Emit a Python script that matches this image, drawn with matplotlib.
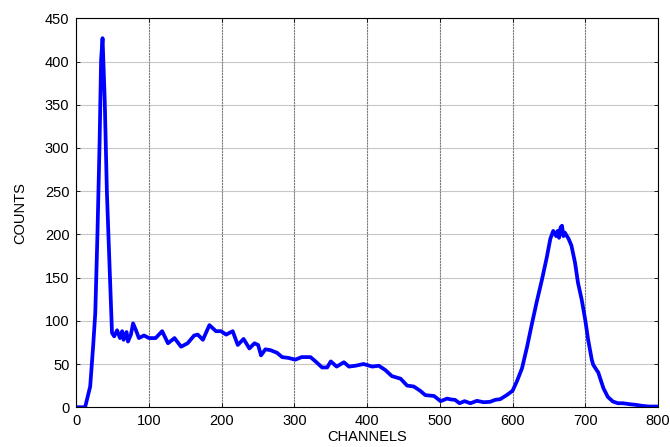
import matplotlib
matplotlib.use("Agg")
import matplotlib.pyplot as plt

plt.rcParams['font.family'] = ['Liberation Sans', 'DejaVu Sans']

# spectrum (channel, counts)
channels = [0, 12, 19, 23, 26, 29, 32, 34, 36, 39, 42, 46, 49, 52, 56, 60, 63, 65, 69, 71,
            75, 78, 82, 86, 93, 100, 109, 118, 126, 135, 144, 153, 162, 167, 174, 183, 192,
            199, 206, 215, 222, 230, 238, 245, 250, 254, 260, 267, 276, 283, 292, 301, 310,
            322, 329, 338, 345, 350, 358, 368, 375, 384, 395, 407, 416, 425, 434, 446, 455,
            464, 473, 480, 492, 501, 510, 515, 521, 527, 534, 542, 551, 560, 569, 576, 583,
            592, 600, 606, 613, 620, 626, 633, 640, 647, 652, 656, 660, 662, 664, 666, 668,
            670, 672, 677, 681, 686, 690, 695, 700, 704, 709, 711, 718, 725, 731, 738, 745,
            752, 761, 770, 779, 788, 800]
counts = [0, 0, 24, 70, 109, 201, 309, 402, 427, 355, 248, 155, 86, 82, 89, 80, 88, 78, 87, 76,
          84, 97, 89, 80, 83, 80, 80, 88, 74, 80, 70, 74, 83, 84, 78, 95, 88,
          88, 84, 88, 72, 79, 68, 74, 72, 60, 67, 66, 63, 58, 57, 55, 58,
          58, 53, 46, 46, 53, 47, 52, 47, 48, 50, 47, 48, 43, 36, 33, 25,
          24, 19, 14, 13, 7, 10, 9, 8.5, 4.6, 7, 4.6, 7.4, 5.8, 6.2, 8.5, 9.3,
          14, 19, 30, 45, 70, 94, 121, 146, 173, 195, 204, 198, 204, 196, 208, 210,
          198, 202, 195, 187, 167, 144, 125, 101, 78, 55, 49, 40, 22, 12, 6.6, 4.6,
          4.6, 3.5, 2.7, 1.5, 0.8, 0.8]

xticks = list(range(0, 801, 100))
yticks = list(range(0, 451, 50))

fig = plt.figure(figsize=(6.7, 4.47), dpi=100)
ax = fig.add_axes([0.114, 0.089, 0.868, 0.870])

ax.plot(channels, counts, color='#0000ff', linewidth=2.7, solid_joinstyle='round')

ax.set_xlim(0, 800)
ax.set_ylim(0, 450)
ax.set_xticks(xticks)
ax.set_yticks(yticks)
ax.tick_params(direction='in', top=True, right=True, length=3, width=0.6,
               labelsize=10.5, pad=5)
# MATLAB-like grid: vertical darker, horizontal finer/lighter
ax.xaxis.grid(True, color='#7a7a7a', linestyle=(0, (2, 0.6)), linewidth=0.8)
ax.yaxis.grid(True, color='#9a9a9a', linestyle=(0, (1, 0.8)), linewidth=0.8)
for s in ax.spines.values():
    s.set_linewidth(0.8)

ax.set_xlabel('CHANNELS', fontsize=10.5, labelpad=1)
ax.set_ylabel('COUNTS', fontsize=10.5, labelpad=13)

fig.savefig('out.png', dpi=100)
